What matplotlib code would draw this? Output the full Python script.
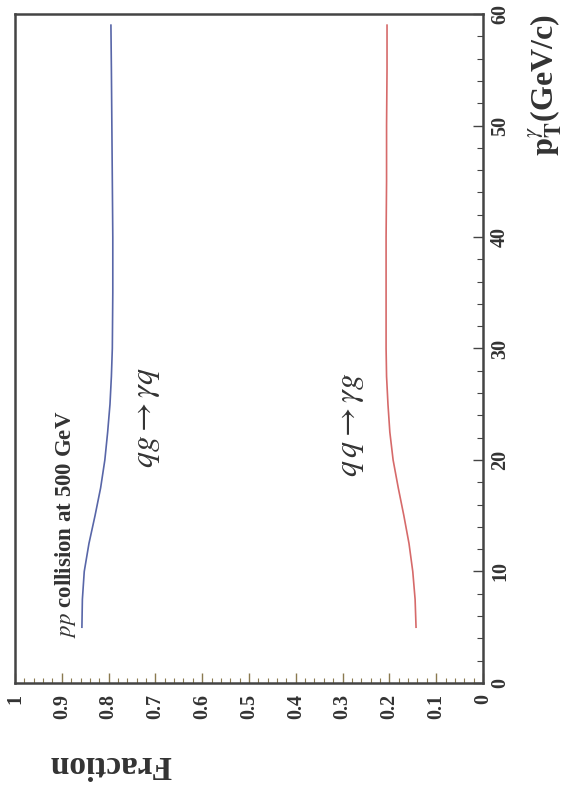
import matplotlib
matplotlib.use("Agg")
import matplotlib.pyplot as plt
from matplotlib.ticker import MultipleLocator

plt.rcParams['font.family'] = ['Liberation Serif', 'DejaVu Serif']
plt.rcParams['mathtext.fontset'] = 'stix'

# Data (pT in GeV/c, fractions)
pt = [5, 7.5, 10, 12.5, 15, 17.5, 20, 22.5, 25, 27.5, 30, 35, 40, 45, 50, 55, 59]
frac_qg = [0.857, 0.856, 0.852, 0.842, 0.829, 0.817, 0.808, 0.802, 0.797, 0.794,
           0.792, 0.791, 0.791, 0.792, 0.793, 0.794, 0.795]
frac_qq = [0.143, 0.145, 0.150, 0.158, 0.169, 0.181, 0.192, 0.199, 0.203, 0.206,
           0.207, 0.207, 0.207, 0.206, 0.206, 0.205, 0.205]

frac_ticks = [1, 0.9, 0.8, 0.7, 0.6, 0.5, 0.4, 0.3, 0.2, 0.1, 0]
frac_ticklabels = ['1', '0.9', '0.8', '0.7', '0.6', '0.5', '0.4', '0.3', '0.2', '0.1', '0']
pt_ticks = [0, 10, 20, 30, 40, 50, 60]
pt_ticklabels = ['0', '10', '20', '30', '40', '50', '60']

fig = plt.figure(figsize=(5.7, 7.96), dpi=100)
ax = fig.add_axes([0.0263, 0.142, 0.8210, 0.8404])

ax.plot(frac_qg, pt, color='#5866a8', lw=1.2)
ax.plot(frac_qq, pt, color='#d66a6a', lw=1.2)

ax.set_xlim(1, 0)
ax.set_ylim(0, 60)

for s in ax.spines.values():
    s.set_color('#444444')
    s.set_linewidth(1.8)

ax.set_xticks(frac_ticks)
ax.set_xticklabels(frac_ticklabels, rotation=90, fontsize=14.5, fontweight='bold', color='#333333')
ax.xaxis.set_minor_locator(MultipleLocator(0.02))
ax.set_yticks(pt_ticks)
ax.set_yticklabels(pt_ticklabels, rotation=90, fontsize=14.5, fontweight='bold', color='#333333', va='center')
ax.yaxis.set_minor_locator(MultipleLocator(2))
ax.yaxis.tick_right()
ax.tick_params(axis='x', which='major', direction='in', length=7, width=1, color='#8a7a50', pad=8)
ax.tick_params(axis='x', which='minor', direction='in', length=3.5, width=0.8, color='#8a7a50')
ax.tick_params(axis='y', which='major', direction='in', length=7, width=1, color='#444444', pad=5)
ax.tick_params(axis='y', which='minor', direction='in', length=4, width=0.8, color='#444444')
ax.tick_params(top=False, left=False, which='both')

ax.text(0.893, 4.0, r"$pp$ collision at 500 GeV", rotation=90, ha='center', va='bottom',
        fontsize=16.5, fontweight='bold', color='#333333')
ax.text(0.716, 19.3, r"$qg\rightarrow\gamma q$", rotation=90, ha='center', va='bottom',
        fontsize=23, color='#333333')
ax.text(0.28, 18.5, r"$q\,q\rightarrow\gamma g$", rotation=90, ha='center', va='bottom',
        fontsize=23, color='#333333')

fig.text(110 / 570, 1 - 765 / 796, "Fraction", rotation=180, ha='center', va='center',
         fontsize=24, fontweight='bold', color='#333333')
fig.text(545 / 570, 1 - 85 / 796, r"$\mathbf{p}_{\mathbf{T}}^{\gamma}$(GeV/c)", rotation=90,
         ha='center', va='center', fontsize=23, fontweight='bold', color='#333333')

fig.savefig('out.png', dpi=100)
